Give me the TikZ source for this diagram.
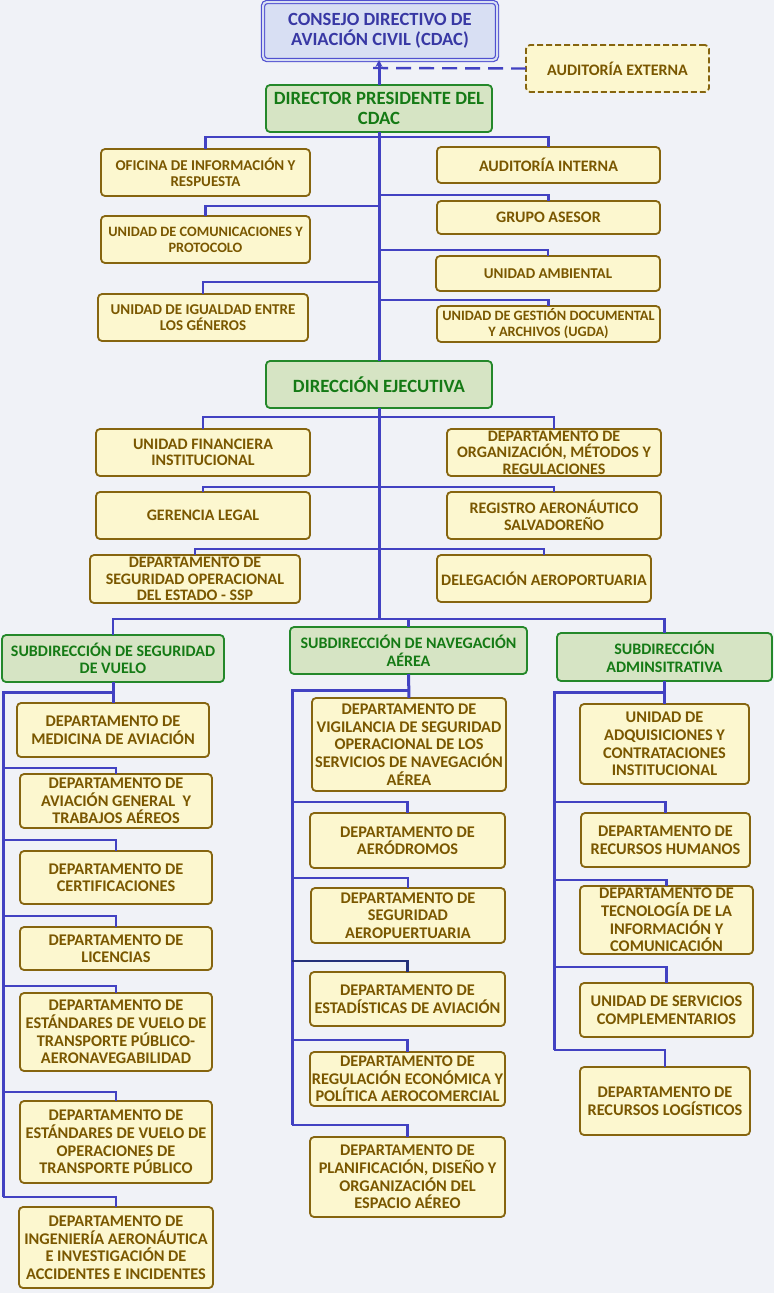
\documentclass[tikz,border=0pt]{standalone}
\usepackage{fontspec}
\setmainfont{Carlito}
\usetikzlibrary{arrows.meta}
\definecolor{bg}{HTML}{F0F2F7}
\definecolor{ln}{HTML}{4242C2}
\definecolor{lnd}{HTML}{24307A}
\definecolor{yfill}{HTML}{FCF7CF}
\definecolor{ydraw}{HTML}{86650F}
\definecolor{ytext}{HTML}{7A5700}
\definecolor{gfill}{HTML}{D6E4C4}
\definecolor{gdraw}{HTML}{24882A}
\definecolor{gtext}{HTML}{157A15}
\definecolor{bfill}{HTML}{D8DFF3}
\definecolor{bdraw}{HTML}{5050D0}
\definecolor{btext}{HTML}{3838A4}
\newcommand{\obox}[7]{\node[#6, minimum width={(#4-#2)*1pt}, minimum height={(#5-#3)*1pt}] (#1) at ({(#2+#4)/2},{(#3+#5)/2}) {#7};}
\tikzset{
  base/.style={rounded corners=4pt, align=center, inner sep=0.5pt, outer sep=0pt, font=\bfseries},
  ybox/.style={base, fill=yfill, draw=ydraw, line width=1.8pt, text=ytext, font=\bfseries\fontsize{15}{16.2}\selectfont},
  ynar/.style={ybox, font=\bfseries\fontsize{14.3}{16}\selectfont},
  ylev/.style={ybox, font=\bfseries\fontsize{16}{16.4}\selectfont},
  ycol/.style={ybox, font=\bfseries\fontsize{16.3}{17.6}\selectfont},
  xbox/.style={ylev, dashed, dash pattern=on 6pt off 3pt},
  gbox/.style={base, fill=gfill, draw=gdraw, line width=1.8pt, text=gtext, font=\bfseries\fontsize{18.7}{20.5}\selectfont},
  gsub/.style={gbox, font=\bfseries\fontsize{16}{17.6}\selectfont},
  cbox/.style={base, fill=bfill, draw=bdraw, double=bfill, double distance=2pt, line width=1.2pt, text=btext, font=\bfseries\fontsize{18.6}{20.5}\selectfont},
  trunk/.style={draw=ln, line width=3pt},
  br/.style={draw=ln, line width=2.5pt},
  brd/.style={draw=lnd, line width=2.5pt},
  dline/.style={draw=ln, line width=2.4pt, dash pattern=on 15pt off 8pt},
}
\begin{document}
\begin{tikzpicture}[x=1pt,y=-1pt]
\useasboundingbox[fill=bg] (0,0) rectangle (774,1293);
\coordinate (dend) at (368,68);
\coordinate (lt) at (3,692);
\coordinate (mt) at (292,690);
\coordinate (rt) at (554,692);
% boxes
\obox{cdac}{263}{2}{497}{60}{cbox}{CONSEJO DIRECTIVO DE\\AVIACIÓN CIVIL (CDAC)}
\obox{aext}{526}{45}{709}{92}{xbox}{AUDITORÍA EXTERNA}
\obox{dirp}{266}{85}{492}{132}{gbox}{DIRECTOR PRESIDENTE DEL\\CDAC}
\obox{ofi}{101}{149}{310}{196}{ybox}{OFICINA DE INFORMACIÓN Y\\RESPUESTA}
\obox{ucom}{101}{216}{310}{263}{ynar}{UNIDAD DE COMUNICACIONES Y\\PROTOCOLO}
\obox{uig}{98}{294}{308}{341}{ybox}{UNIDAD DE IGUALDAD ENTRE\\LOS GÉNEROS}
\obox{aint}{437}{147}{660}{183}{ylev}{AUDITORÍA INTERNA}
\obox{gase}{437}{201}{660}{234}{ylev}{GRUPO ASESOR}
\obox{uamb}{436}{256}{660}{291}{ybox}{UNIDAD AMBIENTAL}
\obox{ugda}{437}{306}{660}{342}{ynar}{UNIDAD DE GESTIÓN DOCUMENTAL\\Y ARCHIVOS (UGDA)}
\obox{dire}{266}{361}{492}{408}{gbox}{DIRECCIÓN EJECUTIVA}
\obox{ufin}{96}{429}{310}{476}{ylev}{UNIDAD FINANCIERA\\INSTITUCIONAL}
\obox{dorg}{447}{429}{661}{476}{ylev}{DEPARTAMENTO DE\\ORGANIZACIÓN, MÉTODOS Y\\REGULACIONES}
\obox{gleg}{96}{492}{310}{539}{ylev}{GERENCIA LEGAL}
\obox{rasa}{447}{492}{661}{539}{ylev}{REGISTRO AERONÁUTICO\\SALVADOREÑO}
\obox{dssp}{90}{555}{300}{603}{ylev}{DEPARTAMENTO DE\\SEGURIDAD OPERACIONAL\\DEL ESTADO - SSP}
\obox{dael}{437}{555}{651}{602}{ylev}{DELEGACIÓN AEROPORTUARIA}
\obox{ssv}{2}{635}{224}{682}{gsub}{SUBDIRECCIÓN DE SEGURIDAD\\DE VUELO}
\obox{sna}{290}{627}{527}{674}{gsub}{SUBDIRECCIÓN DE NAVEGACIÓN\\AÉREA}
\obox{sad}{557}{633}{772}{681}{gsub}{SUBDIRECCIÓN\\ADMINSITRATIVA}
% left column
\obox{med}{17}{703}{209}{757}{ycol}{DEPARTAMENTO DE\\MEDICINA DE AVIACIÓN}
\obox{avg}{20}{774}{212}{828}{ycol}{DEPARTAMENTO DE\\AVIACIÓN GENERAL~ Y\\TRABAJOS AÉREOS}
\obox{cer}{20}{851}{212}{904}{ycol}{DEPARTAMENTO DE\\CERTIFICACIONES}
\obox{lic}{20}{927}{212}{970}{ycol}{DEPARTAMENTO DE\\LICENCIAS}
\obox{eaer}{20}{993}{212}{1071}{ycol}{DEPARTAMENTO DE\\ESTÁNDARES DE VUELO DE\\TRANSPORTE PÚBLICO-\\AERONAVEGABILIDAD}
\obox{eops}{20}{1101}{212}{1183}{ycol}{DEPARTAMENTO DE\\ESTÁNDARES DE VUELO DE\\OPERACIONES DE\\TRANSPORTE PÚBLICO}
\obox{ing}{19}{1207}{213}{1288}{ycol}{DEPARTAMENTO DE\\INGENIERÍA AERONÁUTICA\\E INVESTIGACIÓN DE\\ACCIDENTES E INCIDENTES}
% middle column
\obox{vig}{312}{698}{506}{791}{ycol}{DEPARTAMENTO DE\\VIGILANCIA DE SEGURIDAD\\OPERACIONAL DE LOS\\SERVICIOS DE NAVEGACIÓN\\AÉREA}
\obox{aer}{310}{813}{505}{868}{ycol}{DEPARTAMENTO DE\\AERÓDROMOS}
\obox{sae}{311}{888}{505}{943}{ycol}{DEPARTAMENTO DE\\SEGURIDAD\\AEROPUERTUARIA}
\obox{est}{310}{972}{505}{1026}{ycol}{DEPARTAMENTO DE\\ESTADÍSTICAS DE AVIACIÓN}
\obox{reg}{310}{1052}{505}{1106}{ycol}{DEPARTAMENTO DE\\REGULACIÓN ECONÓMICA Y\\POLÍTICA AEROCOMERCIAL}
\obox{pla}{310}{1137}{505}{1217}{ycol}{DEPARTAMENTO DE\\PLANIFICACIÓN, DISEÑO Y\\ORGANIZACIÓN DEL\\ESPACIO AÉREO}
% right column
\obox{adq}{580}{704}{749}{784}{ycol}{UNIDAD DE\\ADQUISICIONES Y\\CONTRATACIONES\\INSTITUCIONAL}
\obox{rhu}{581}{813}{750}{867}{ycol}{DEPARTAMENTO DE\\RECURSOS HUMANOS}
\obox{tec}{580}{886}{753}{954}{ycol}{DEPARTAMENTO DE\\TECNOLOGÍA DE LA\\INFORMACIÓN Y\\COMUNICACIÓN}
\obox{sco}{580}{983}{753}{1037}{ycol}{UNIDAD DE SERVICIOS\\COMPLEMENTARIOS}
\obox{rlo}{580}{1067}{750}{1135}{ycol}{DEPARTAMENTO DE\\RECURSOS LOGÍSTICOS}
% connectors
\draw[trunk, -{Stealth[length=7pt,width=7pt]}] (dirp.north) -- (dirp.north |- cdac.south);
\draw[dline] (aext.west) -- (dend);
\draw[trunk] (dirp.south) -- (dire.north);
\draw[br] (dirp.south |- 0,137) -| (ofi.north);
\draw[br] (dirp.south |- 0,137) -| (aint.north);
\draw[br] (dirp.south |- 0,195) -| (gase.north);
\draw[br] (dirp.south |- 0,206) -| (ucom.north);
\draw[br] (dirp.south |- 0,250) -| (uamb.north);
\draw[br] (dirp.south |- 0,282) -| (uig.north);
\draw[br] (dirp.south |- 0,300) -| (ugda.north);
\draw[trunk] (dire.south) -- (dire.south |- 0,619);
\draw[br] (dire.south |- 0,417) -| (ufin.north);
\draw[br] (dire.south |- 0,417) -| (dorg.north);
\draw[br] (dire.south |- 0,487) -| (gleg.north);
\draw[br] (dire.south |- 0,487) -| (rasa.north);
\draw[br] (dire.south |- 0,549) -| (dssp.north);
\draw[br] (dire.south |- 0,549) -| (dael.north);
\draw[br] (dire.south |- 0,619) -| (ssv.north);
\draw[br] (dire.south |- 0,619) -| (sna.north);
\draw[br] (dire.south |- 0,619) -| (sad.north);
% left
\draw[trunk] (ssv.south) -- (med.north);
\draw[trunk] (ssv.south |- lt) -- (lt) -- (lt |- 0,1197);
\draw[br] (lt |- 0,768) -| (avg.north);
\draw[br] (lt |- 0,840) -| (cer.north);
\draw[br] (lt |- 0,916) -| (lic.north);
\draw[br] (lt |- 0,986) -| (eaer.north);
\draw[br] (lt |- 0,1092) -| (eops.north);
\draw[br] (lt |- 0,1197) -| (ing.north);
% middle
\draw[trunk] (sna.south) -- (vig.north);
\draw[trunk] (sna.south |- mt) -- (mt) -- (mt |- 0,1125);
\draw[br] (mt |- 0,802) -| (aer.north);
\draw[br] (mt |- 0,878) -| (sae.north);
\draw[brd] (mt |- 0,961) -| (est.north);
\draw[br] (mt |- 0,1040) -| (reg.north);
\draw[br] (mt |- 0,1125) -| (pla.north);
% right
\draw[trunk] (sad.south) -- (adq.north);
\draw[trunk] (sad.south |- rt) -- (rt) -- (rt |- 0,1050);
\draw[br] (rt |- 0,802) -| (rhu.north);
\draw[br] (rt |- 0,880) -| (tec.north);
\draw[br] (rt |- 0,967) -| (sco.north);
\draw[br] (rt |- 0,1050) -| (rlo.north);
\end{tikzpicture}
\end{document}
